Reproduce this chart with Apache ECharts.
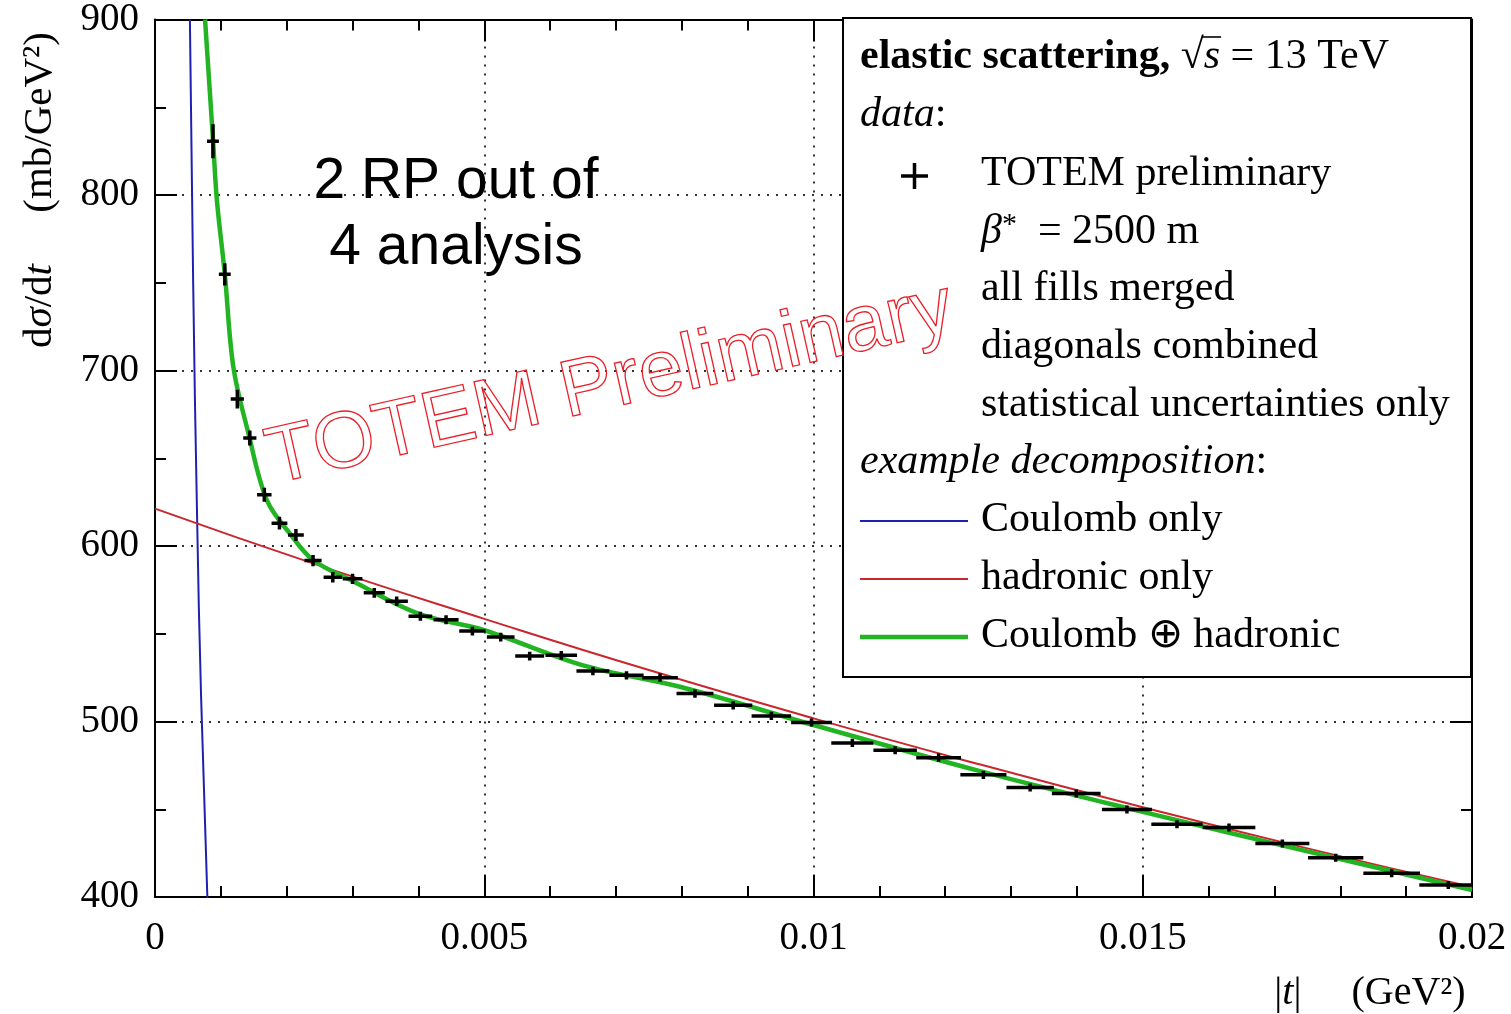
<!DOCTYPE html>
<html><head><meta charset="utf-8">
<script src="https://cdn.jsdelivr.net/npm/echarts@6/dist/echarts.min.js"></script>
<style>html,body{margin:0;padding:0;background:#fff}#c{width:1511px;height:1014px}</style>
</head><body><div id="c"></div>
<script>
// ---- data ----
const dataT   = [0.00088,0.00106,0.00125,0.00144,0.00166,0.00189,0.00214,0.0024,0.0027,0.0030,
                 0.00333,0.00367,0.00403,0.00442,0.00482,0.00525,0.00569,0.00617,0.00665,0.00716,
                 0.00767,0.0082,0.00878,0.00936,0.00997,0.01059,0.01124,0.0119,0.01258,0.01329,
                 0.01399,0.01476,0.01552,0.01631,0.01712,0.01793,0.01878,0.01964];
const dataY   = [830.6,754.8,683.7,661.5,629.2,613.0,606.3,591.7,582.2,581.3,
                 573.3,568.5,560.0,558.0,551.5,548.1,537.3,537.7,528.8,526.3,
                 525.0,515.9,509.2,503.2,499.4,487.8,483.6,479.4,469.6,462.4,
                 459.0,449.9,441.5,439.6,430.5,422.4,413.5,406.8];
const dataTErr= [0.00009,0.00009,0.0001,0.0001,0.00011,0.00012,0.00012,0.00013,0.00014,0.00015,
                 0.00016,0.00017,0.00018,0.00019,0.0002,0.00021,0.00022,0.00024,0.00025,0.00026,
                 0.00027,0.00028,0.00029,0.0003,0.00031,0.00032,0.00033,0.00034,0.00035,0.00036,
                 0.00037,0.00038,0.00039,0.0004,0.00041,0.00042,0.00043,0.00044];
const dataYErr= [9.7,6.3,5.4,4.3,4.0,3.6,3.4,3.2,3.0,2.9,
                 2.8,2.7,2.6,2.6,2.5,2.5,2.5,2.5,2.4,2.4,
                 2.4,2.4,2.3,2.3,2.3,2.3,2.3,2.3,2.3,2.3,
                 2.3,2.3,2.3,2.3,2.3,2.3,2.3,2.3];

const coulombT = [0.00053,0.00058,0.00064,0.00070,0.00080];
const coulombY = [900,749,615,514,394];

const hadronicT = [0,0.0025,0.005,0.0075,0.01,0.0125,0.015,0.0175,0.02];
const hadronicY = [621.3,588.8,558.5,529.3,501.8,475.8,451.1,427.7,405.7];

const fullT = [0.00076,0.00088,0.00094,0.00106,0.00119,0.00142,0.0017,0.00205,0.0024,0.003,
               0.004,0.005,0.0065,0.008,0.01,0.0125,0.015,0.0175,0.02];
const fullY = [900,832,797,755,702,664,626,607,592,580,
               561.5,552,532,519.5,498,472,448.5,426,404];

const xTickLabels = {0:'0',0.005:'0.005',0.01:'0.01',0.015:'0.015',0.02:'0.02'};
const yTickValues = [400,500,600,700,800,900];

// ---- chart ----
const zip = (a,b)=>a.map((v,i)=>[v,b[i]]);
const serif = 'Liberation Serif';
const chart = echarts.init(document.getElementById('c'));

function axisCommon(showLabel){
  return {
    axisLine:{show:true,onZero:false,lineStyle:{color:'#000',width:2}},
    axisTick:{show:true,inside:true,length:22,lineStyle:{color:'#000',width:2}},
    minorTick:{show:true,length:11,lineStyle:{color:'#000',width:2}},
    axisLabel:{show:showLabel},
  };
}

const errData = dataT.map((t,i)=>[t,dataY[i],dataTErr[i],dataYErr[i]]);

const option = {
  animation:false,
  backgroundColor:'#fff',
  grid:{left:155,right:39,top:18,bottom:117,containLabel:false},
  xAxis:[
    Object.assign(axisCommon(true),{
      type:'value',min:0,max:0.02,interval:0.005,position:'bottom',
      minorTick:{show:true,splitNumber:5,length:11,lineStyle:{color:'#000',width:2}},
      axisLabel:{show:true,margin:22,fontFamily:serif,fontSize:39,color:'#000',
        formatter:v=>{const k=Math.round(v*1000)/1000;return xTickLabels[k]!==undefined?xTickLabels[k]:'';}},
      splitLine:{show:true,lineStyle:{type:[2,7],color:'#333',width:2}}
    }),
    Object.assign(axisCommon(false),{
      type:'value',min:0,max:0.02,interval:0.005,position:'top',
      minorTick:{show:true,splitNumber:5,length:11,lineStyle:{color:'#000',width:2}},
      splitLine:{show:false}
    })
  ],
  yAxis:[
    Object.assign(axisCommon(true),{
      type:'value',min:400,max:900,interval:100,position:'left',
      minorTick:{show:true,splitNumber:2,length:11,lineStyle:{color:'#000',width:2}},
      axisLabel:{show:true,margin:16,fontFamily:serif,fontSize:39,color:'#000',
        formatter:v=>yTickValues.indexOf(v)>=0?String(v):''},
      splitLine:{show:true,lineStyle:{type:[2,7],color:'#333',width:2}}
    }),
    Object.assign(axisCommon(false),{
      type:'value',min:400,max:900,interval:100,position:'right',
      minorTick:{show:true,splitNumber:2,length:11,lineStyle:{color:'#000',width:2}},
      splitLine:{show:false}
    })
  ],
  series:[
    {name:'Coulomb only',type:'line',data:zip(coulombT,coulombY),smooth:true,symbol:'none',
      clip:true,lineStyle:{color:'#2020b0',width:2},z:2},
    {name:'hadronic only',type:'line',data:zip(hadronicT,hadronicY),smooth:true,symbol:'none',
      clip:true,lineStyle:{color:'#c8282d',width:2},z:3},
    {name:'Coulomb ⊕ hadronic',type:'line',data:zip(fullT,fullY),smooth:0.35,symbol:'none',
      clip:true,lineStyle:{color:'#22b422',width:4.5},z:4},
    {name:'TOTEM preliminary',type:'custom',data:errData,encode:{x:0,y:1},z:5,clip:true,
      renderItem:function(params,api){
        const t=api.value(0),y=api.value(1),dt=api.value(2),dy=api.value(3);
        const a=api.coord([t-dt,y]),b=api.coord([t+dt,y]),c=api.coord([t,y-dy]),d=api.coord([t,y+dy]);
        const st={stroke:'#000',lineWidth:3.5};
        return {type:'group',children:[
          {type:'line',shape:{x1:a[0],y1:a[1],x2:b[0],y2:b[1]},style:st},
          {type:'line',shape:{x1:c[0],y1:c[1],x2:d[0],y2:d[1]},style:st}
        ]};
      }}
  ],
  graphic:[]
};

// ---- annotations, legend box, axis names ----
const g = option.graphic;
const LX = 860, LX2 = 981, fs = 42;
g.push({type:'rect',shape:{x:843,y:18,width:628,height:659},style:{fill:'#fff',stroke:'#000',lineWidth:2},z:50});
g.push({type:'text',x:LX,y:57,z:51,style:{text:'{b|elastic scattering,} {n|√}{i|s}{n| = 13 TeV}',
  textVerticalAlign:'middle',font:fs+'px '+serif,fill:'#000',
  rich:{b:{fontFamily:serif,fontSize:fs,fontWeight:'bold'},n:{fontFamily:serif,fontSize:fs},i:{fontFamily:serif,fontSize:fs,fontStyle:'italic'}}}});
// overline of the square root, placed from the measured text layout
(function(){
  const ctx = document.createElement('canvas').getContext('2d');
  ctx.font = 'bold '+fs+'px "'+serif+'"';
  const w1 = ctx.measureText('elastic scattering,').width;
  ctx.font = fs+'px "'+serif+'"';
  const wsp = ctx.measureText(' ').width, wr = ctx.measureText('√').width;
  ctx.font = 'italic '+fs+'px "'+serif+'"';
  const ws = ctx.measureText('s').width;
  const x0 = LX + w1 + wsp + wr - 2;
  g.push({type:'line',z:53,shape:{x1:x0,y1:37,x2:x0+ws+3,y2:37},style:{stroke:'#000',lineWidth:1.6}});
})();
g.push({type:'text',x:LX,y:115,z:51,style:{text:'{i|data}{n|:}',textVerticalAlign:'middle',fill:'#000',
  rich:{n:{fontFamily:serif,fontSize:fs},i:{fontFamily:serif,fontSize:fs,fontStyle:'italic'}}}});
// cross marker
g.push({type:'line',z:52,shape:{x1:901,y1:176,x2:928,y2:176},style:{stroke:'#000',lineWidth:3.5}});
g.push({type:'line',z:52,shape:{x1:914.5,y1:163,x2:914.5,y2:189},style:{stroke:'#000',lineWidth:3.5}});
const dataLines = [['TOTEM preliminary',174],['{i|β}{s|*}{n|  = 2500 m}',232],['all fills merged',289],
  ['diagonals combined',347],['statistical uncertainties only',405]];
dataLines.forEach(([tx,y])=>g.push({type:'text',x:LX2,y:y,z:51,style:{text:tx.indexOf('{')===0?tx:'{n|'+tx+'}',
  textVerticalAlign:'middle',fill:'#000',
  rich:{n:{fontFamily:serif,fontSize:fs},i:{fontFamily:serif,fontSize:fs,fontStyle:'italic'},
        s:{fontFamily:serif,fontSize:30,verticalAlign:'top',padding:[0,0,14,0]}}}}));
g.push({type:'text',x:LX,y:462,z:51,style:{text:'{i|example decomposition}{n|:}',textVerticalAlign:'middle',fill:'#000',
  rich:{n:{fontFamily:serif,fontSize:fs},i:{fontFamily:serif,fontSize:fs,fontStyle:'italic'}}}});
const legItems = [['Coulomb only','#2020b0',2,521],['hadronic only','#c8282d',2,579],['Coulomb ⊕ hadronic','#22b422',4.5,637]];
legItems.forEach(([tx,col,w,y])=>{
  g.push({type:'line',z:52,shape:{x1:860,y1:y,x2:968,y2:y},style:{stroke:col,lineWidth:w}});
  g.push({type:'text',x:LX2,y:y-1,z:51,style:{text:tx,font:fs+'px '+serif,textVerticalAlign:'middle',fill:'#000'}});
});
// annotation text
g.push({type:'text',x:456,y:182,z:60,style:{text:'2 RP out of',font:'57px "Liberation Sans"',textAlign:'center',textVerticalAlign:'middle',fill:'#000'}});
g.push({type:'text',x:456,y:248,z:60,style:{text:'4 analysis',font:'57px "Liberation Sans"',textAlign:'center',textVerticalAlign:'middle',fill:'#000'}});
// watermark
g.push({type:'text',x:610,y:385,rotation:0.222,z:70,style:{text:'TOTEM Preliminary',font:'80px "Liberation Sans"',
  textAlign:'center',textVerticalAlign:'middle',fill:'rgba(0,0,0,0)',stroke:'#e8202a',lineWidth:1.3}});
// axis names
g.push({type:'text',x:40,y:190,rotation:Math.PI/2,z:60,style:{
  text:'{n|d}{i|σ}{n|/d}{i|t}{n|     (mb/GeV²)}',textAlign:'center',textVerticalAlign:'middle',fill:'#000',
  rich:{n:{fontFamily:serif,fontSize:41},i:{fontFamily:serif,fontSize:41,fontStyle:'italic'}}}});
g.push({type:'text',x:1370,y:993,z:60,style:{
  text:'{n||}{i|t}{n||     (GeV²)}',textAlign:'center',textVerticalAlign:'middle',fill:'#000',
  rich:{n:{fontFamily:serif,fontSize:40},i:{fontFamily:serif,fontSize:40,fontStyle:'italic'}}}});

chart.setOption(option);
</script></body></html>
